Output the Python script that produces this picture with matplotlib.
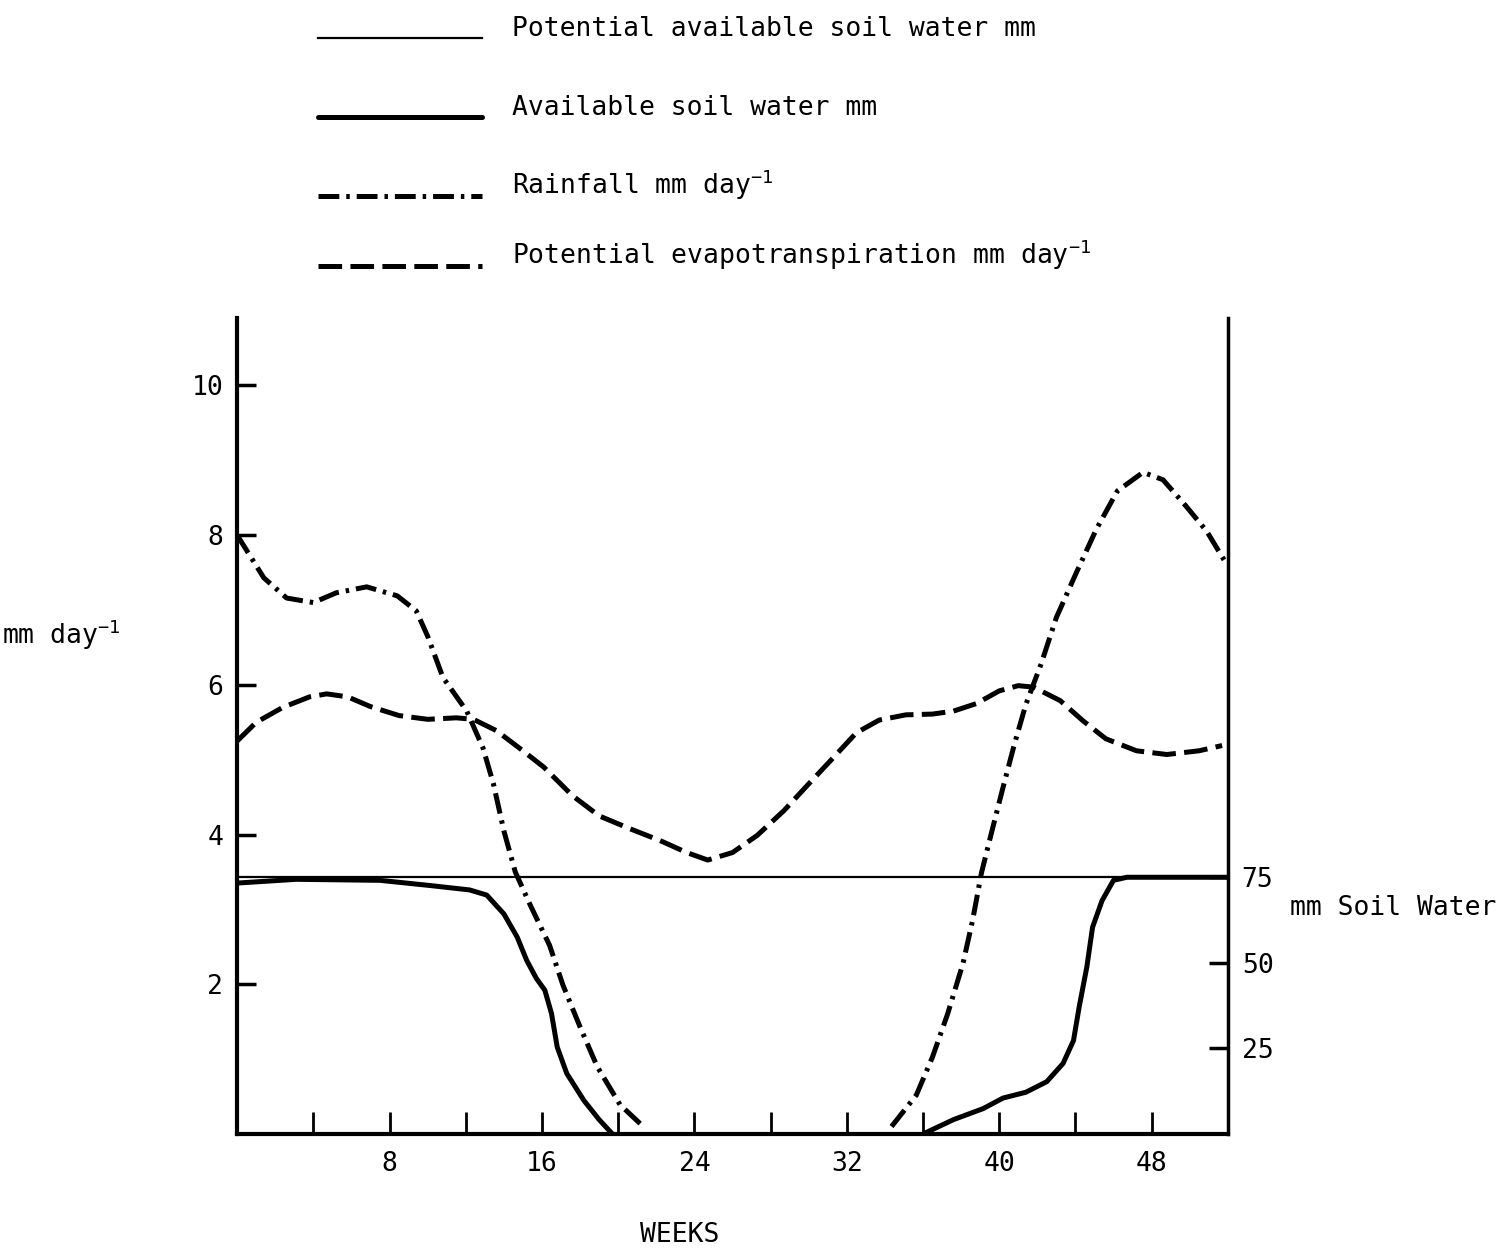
import numpy as np
import matplotlib
matplotlib.use("Agg")
import matplotlib.pyplot as plt
from matplotlib.lines import Line2D

plt.rcParams['font.family'] = ['DejaVu Sans Mono', 'DejaVu Sans']
plt.rcParams['mathtext.fontset'] = 'custom'
plt.rcParams['mathtext.rm'] = 'DejaVu Sans Mono'
plt.rcParams['mathtext.it'] = 'DejaVu Sans Mono'
plt.rcParams['lines.scale_dashes'] = False

# potential evapotranspiration, mm/day
pet_weeks = [0, 1.0, 2.4, 3.8, 4.7, 5.8, 7.0, 8.5, 10.0, 11.5, 12.4, 13.6, 15.0, 16.1,
             17.6, 19.0, 20.6, 22.2, 23.6, 24.7, 26.0, 27.3, 28.7, 29.9, 31.3, 32.5,
             33.7, 35.1, 36.5, 37.6, 38.8, 40.0, 41.0, 41.8, 43.2, 44.4, 45.6, 47.2,
             48.8, 50.5, 51.7]
pet = [5.25, 5.50, 5.70, 5.84, 5.88, 5.84, 5.71, 5.59, 5.54, 5.56, 5.54, 5.39, 5.12, 4.90,
       4.52, 4.25, 4.08, 3.92, 3.76, 3.66, 3.76, 3.99, 4.32, 4.65, 5.03, 5.36,
       5.53, 5.60, 5.61, 5.65, 5.75, 5.92, 5.99, 5.97, 5.79, 5.52, 5.28, 5.12,
       5.07, 5.12, 5.19]

# rainfall, mm/day (no rain between ~week 21 and 34)
rain_weeks = [0, 1.4, 2.6, 4.0, 5.2, 6.8, 8.4, 9.4, 10.0, 10.8, 12.05, 12.9, 13.45, 14.0,
              14.6, 15.4, 16.4, 17.1, 18.0, 18.9, 20.1, 21.4,
              None,
              34.35, 35.65, 36.5, 37.3, 38.1, 38.6, 39.07, 39.6, 40.2, 40.8, 41.4, 42.2,
              43.0, 44.05, 45.1, 46.2, 47.55, 48.6, 49.8, 50.9, 51.8]
rain = [8.0, 7.43, 7.16, 7.10, 7.23, 7.31, 7.19, 6.99, 6.65, 6.10, 5.65, 5.16, 4.68, 4.05,
        3.50, 3.05, 2.52, 1.99, 1.43, 0.90, 0.39, 0.08,
        None,
        0.10, 0.52, 1.03, 1.61, 2.28, 2.85, 3.49, 4.03, 4.63, 5.21, 5.74, 6.28,
        6.9, 7.5, 8.08, 8.59, 8.84, 8.74, 8.39, 8.05, 7.67]

# available soil water, mm
sw_weeks = [0, 3.1, 7.5, 10.1, 12.2, 13.1, 14.0, 14.7, 15.2, 15.7, 16.15, 16.5, 16.8,
            17.3, 18.2, 19.0, 19.7,
            None,
            36.0, 37.6, 39.15, 40.2, 41.4, 42.5, 43.35, 43.9, 44.2, 44.6, 44.9, 45.4,
            46.0, 46.7, 52.0]
soil_water = [73.3, 74.4, 74.1, 72.6, 71.3, 69.8, 64.3, 57.5, 50.7, 45.5, 42.0, 35.2, 25.4,
              17.7, 9.8, 4.2, 0.0,
              None,
              0.0, 4.2, 7.4, 10.5, 12.2, 15.3, 20.6, 27.3, 37.2, 48.8, 60.4, 68.2,
              74.1, 75.0, 75.0]

pot_weeks = [0, 52]
pot_soil_water = [75, 75]

def arr(v):
    return np.array([np.nan if x is None else x for x in v], dtype=float)

fig = plt.figure(figsize=(15.01, 12.5), dpi=100)
ax = fig.add_axes([0.158, 0.0928, 0.66, 0.6527])
ax2 = ax.twinx()

pet_style = dict(color='black', lw=3.6, dashes=(17, 6), dash_joinstyle='round')
rain_style = dict(color='black', lw=3.6, dashes=(15, 5, 2.5, 5), dash_joinstyle='round')
sw_style = dict(color='black', lw=3.6, solid_joinstyle='round', solid_capstyle='round')
pot_style = dict(color='black', lw=1.6)

ax.plot(pet_weeks, pet, **pet_style)
ax.plot(arr(rain_weeks), arr(rain), **rain_style)
ax2.plot(arr(sw_weeks), arr(soil_water), **sw_style)
ax2.plot(pot_weeks, pot_soil_water, **pot_style)

top = 10.9
ax.set_xlim(0, 52)
ax.set_ylim(0, top)
ax2.set_ylim(0, top * 75 / 3.43)

ax.set_xticks([8, 16, 24, 32, 40, 48])
ax.set_xticks([4, 12, 20, 28, 36, 44], minor=True)
ax.set_yticks([2, 4, 6, 8, 10])
ax2.set_yticks([25, 50, 75])

ax.tick_params(axis='x', which='both', direction='in', length=16, width=2,
               labelsize=19, pad=12)
ax.tick_params(axis='y', direction='in', length=14, width=2.5, labelsize=19, pad=10)
ax2.tick_params(axis='y', direction='in', length=14, width=2.5, labelsize=19, pad=10)

for a in (ax, ax2):
    a.spines['top'].set_visible(False)
ax.spines['right'].set_visible(False)
ax2.spines['left'].set_visible(False)
ax2.spines['bottom'].set_visible(False)
ax.spines['left'].set_linewidth(3)
ax.spines['bottom'].set_linewidth(3)
ax2.spines['right'].set_linewidth(2.5)

fig.text(2 / 1501, 0.492, r'mm day$^{-1}$', fontsize=19, ha='left', va='center')
fig.text(1290 / 1501, 0.2736, 'mm Soil Water', fontsize=19, ha='left', va='center')
fig.text(0.453, 0.012, 'WEEKS', fontsize=19, ha='center', va='center')

# legend drawn by hand (rows are unevenly spaced in the original)
legend_rows = [
    ('Potential available soil water mm', pot_style, 38),
    ('Available soil water mm', sw_style, 117),
    (r'Rainfall mm day$^{-1}$', rain_style, 196),
    (r'Potential evapotranspiration mm day$^{-1}$', pet_style, 266),
]
for label, style, ypx in legend_rows:
    y = 1 - ypx / 1250
    fig.add_artist(Line2D([318 / 1501, 482 / 1501], [y, y], transform=fig.transFigure, **style))
    fig.text(512 / 1501, y + 2 / 1250, label, fontsize=19, ha='left', va='baseline')

fig.savefig('out.png', dpi=100)
